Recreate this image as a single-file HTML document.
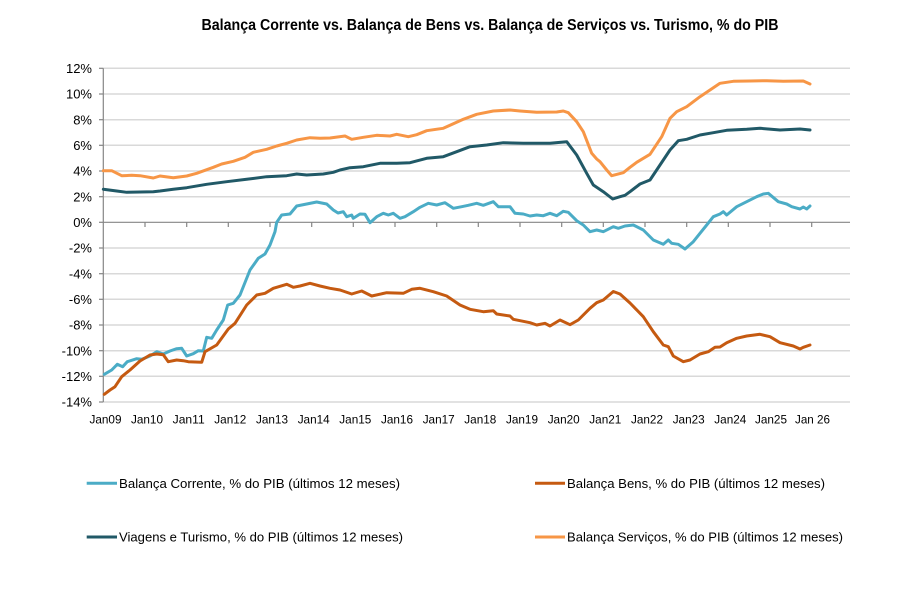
<!DOCTYPE html>
<html>
<head>
<meta charset="utf-8">
<style>
html,body{margin:0;padding:0;background:#fff;}
svg{display:block;}
text{font-family:"Liberation Sans",Arial,sans-serif;fill:#000;}
</style>
</head>
<body>
<svg width="918" height="590" viewBox="0 0 918 590" xmlns="http://www.w3.org/2000/svg">
<rect width="918" height="590" fill="#fff"/>
<text x="201.5" y="30" font-size="15.5" font-weight="bold" textLength="577" lengthAdjust="spacingAndGlyphs">Balança Corrente vs. Balança de Bens vs. Balança de Serviços vs. Turismo, % do PIB</text>

<!-- gridlines -->
<g stroke="#d9d9d9" stroke-width="1.5">
<line x1="103.3" y1="68.3" x2="850" y2="68.3"/>
<line x1="103.3" y1="94" x2="850" y2="94"/>
<line x1="103.3" y1="119.7" x2="850" y2="119.7"/>
<line x1="103.3" y1="145.3" x2="850" y2="145.3"/>
<line x1="103.3" y1="171" x2="850" y2="171"/>
<line x1="103.3" y1="196.7" x2="850" y2="196.7"/>
<line x1="103.3" y1="248" x2="850" y2="248"/>
<line x1="103.3" y1="273.7" x2="850" y2="273.7"/>
<line x1="103.3" y1="299.3" x2="850" y2="299.3"/>
<line x1="103.3" y1="325" x2="850" y2="325"/>
<line x1="103.3" y1="350.7" x2="850" y2="350.7"/>
<line x1="103.3" y1="376.3" x2="850" y2="376.3"/>
<line x1="103.3" y1="402" x2="850" y2="402"/>
</g>
<!-- axes -->
<g stroke="#868686" stroke-width="1.2">
<line x1="103.3" y1="68.3" x2="103.3" y2="402"/>
<line x1="103.3" y1="222.3" x2="850" y2="222.3"/>
<line x1="99" y1="68.3" x2="103.3" y2="68.3"/>
<line x1="99" y1="94" x2="103.3" y2="94"/>
<line x1="99" y1="119.7" x2="103.3" y2="119.7"/>
<line x1="99" y1="145.3" x2="103.3" y2="145.3"/>
<line x1="99" y1="171" x2="103.3" y2="171"/>
<line x1="99" y1="196.7" x2="103.3" y2="196.7"/>
<line x1="99" y1="222.3" x2="103.3" y2="222.3"/>
<line x1="99" y1="248" x2="103.3" y2="248"/>
<line x1="99" y1="273.7" x2="103.3" y2="273.7"/>
<line x1="99" y1="299.3" x2="103.3" y2="299.3"/>
<line x1="99" y1="325" x2="103.3" y2="325"/>
<line x1="99" y1="350.7" x2="103.3" y2="350.7"/>
<line x1="99" y1="376.3" x2="103.3" y2="376.3"/>
<line x1="99" y1="402" x2="103.3" y2="402"/>
<line x1="145" y1="222.3" x2="145" y2="227"/>
<line x1="186.7" y1="222.3" x2="186.7" y2="227"/>
<line x1="228.3" y1="222.3" x2="228.3" y2="227"/>
<line x1="270" y1="222.3" x2="270" y2="227"/>
<line x1="311.7" y1="222.3" x2="311.7" y2="227"/>
<line x1="353.3" y1="222.3" x2="353.3" y2="227"/>
<line x1="395" y1="222.3" x2="395" y2="227"/>
<line x1="436.7" y1="222.3" x2="436.7" y2="227"/>
<line x1="478.3" y1="222.3" x2="478.3" y2="227"/>
<line x1="520" y1="222.3" x2="520" y2="227"/>
<line x1="561.7" y1="222.3" x2="561.7" y2="227"/>
<line x1="603.3" y1="222.3" x2="603.3" y2="227"/>
<line x1="645" y1="222.3" x2="645" y2="227"/>
<line x1="686.7" y1="222.3" x2="686.7" y2="227"/>
<line x1="728.3" y1="222.3" x2="728.3" y2="227"/>
<line x1="770" y1="222.3" x2="770" y2="227"/>
<line x1="811.7" y1="222.3" x2="811.7" y2="227"/>
</g>

<!-- y labels -->
<g font-size="13" text-anchor="end">
<text x="92" y="73">12%</text>
<text x="92" y="98.7">10%</text>
<text x="92" y="124.4">8%</text>
<text x="92" y="150">6%</text>
<text x="92" y="175.7">4%</text>
<text x="92" y="201.4">2%</text>
<text x="92" y="227">0%</text>
<text x="92" y="252.7">-2%</text>
<text x="92" y="278.4">-4%</text>
<text x="92" y="304">-6%</text>
<text x="92" y="329.7">-8%</text>
<text x="92" y="355.4">-10%</text>
<text x="92" y="381">-12%</text>
<text x="92" y="406.7">-14%</text>
</g>

<!-- x labels -->
<g font-size="12" text-anchor="middle">
<text x="105.5" y="423.5" textLength="32" lengthAdjust="spacingAndGlyphs">Jan09</text>
<text x="147" y="423.5" textLength="32" lengthAdjust="spacingAndGlyphs">Jan10</text>
<text x="188.7" y="423.5" textLength="32" lengthAdjust="spacingAndGlyphs">Jan11</text>
<text x="230.3" y="423.5" textLength="32" lengthAdjust="spacingAndGlyphs">Jan12</text>
<text x="272" y="423.5" textLength="32" lengthAdjust="spacingAndGlyphs">Jan13</text>
<text x="313.7" y="423.5" textLength="32" lengthAdjust="spacingAndGlyphs">Jan14</text>
<text x="355.3" y="423.5" textLength="32" lengthAdjust="spacingAndGlyphs">Jan15</text>
<text x="397" y="423.5" textLength="32" lengthAdjust="spacingAndGlyphs">Jan16</text>
<text x="438.7" y="423.5" textLength="32" lengthAdjust="spacingAndGlyphs">Jan17</text>
<text x="480.3" y="423.5" textLength="32" lengthAdjust="spacingAndGlyphs">Jan18</text>
<text x="522" y="423.5" textLength="32" lengthAdjust="spacingAndGlyphs">Jan19</text>
<text x="563.7" y="423.5" textLength="32" lengthAdjust="spacingAndGlyphs">Jan20</text>
<text x="605.3" y="423.5" textLength="32" lengthAdjust="spacingAndGlyphs">Jan21</text>
<text x="647" y="423.5" textLength="32" lengthAdjust="spacingAndGlyphs">Jan22</text>
<text x="688.7" y="423.5" textLength="32" lengthAdjust="spacingAndGlyphs">Jan23</text>
<text x="730.3" y="423.5" textLength="32" lengthAdjust="spacingAndGlyphs">Jan24</text>
<text x="771" y="423.5" textLength="32" lengthAdjust="spacingAndGlyphs">Jan25</text>
<text x="812.5" y="423.5" textLength="35" lengthAdjust="spacingAndGlyphs">Jan 26</text>
</g>

<!-- series -->
<g fill="none" stroke-width="3" stroke-linejoin="round" stroke-linecap="round">
<polyline stroke="#F79646" points="103.3,170.7 111.7,170.7 121.7,175.7 131.7,175.3 140,175.7 153.3,178 160,176 173.3,177.7 186.7,176 196.7,173.3 213.3,167.3 221.7,164 233.3,161.3 245,157.3 253.3,152.3 266.7,149.3 276.7,146 286.7,143.3 296.7,140 310,137.7 320,138.3 330,138 345,136 351.7,139.3 363.3,137.3 376.7,135.3 390,136 396.7,134.3 408.3,136.7 416.7,134.7 426.7,130.7 443.3,128.3 463.3,119.3 476.7,114.3 493.3,111 510,110 520,111 536.7,112.3 556.7,112 563.3,111 568.3,112.7 576.7,121.7 583.3,131.7 591.7,153.3 596.7,159 600,161.7 606.7,170 611.7,175.7 623.3,172.7 630,167.3 636.7,162.3 650,154.3 661.7,136.7 670,118.3 676.7,111.7 686.7,106.7 700,96.7 710,90 720,83.3 733.3,81.3 750,81 766.7,80.7 783.3,81.3 803.3,81 810,84"/>
<polyline stroke="#215967" points="103.3,189.3 116.7,191 126.7,192.3 153.3,191.7 160,191 173.3,189.3 186.7,187.7 206.7,184.3 226.7,181.7 246.7,179.3 266.7,176.7 286.7,175.7 296.7,174 306.7,175 323.3,174 333.3,172.3 340,170 350,167.7 363.3,166.7 380,163.3 396.7,163.3 410,162.7 426.7,158.3 443.3,156.7 456.7,151.7 470,146.7 486.7,145 503.3,142.7 523.3,143.3 550,143.3 566.7,141.7 576.7,155 586.7,173.3 593.3,185 603.3,191.7 612.7,199 620,196.7 625,195.3 630,191.7 640,184 650,180 660,165 670,150 678.3,140.7 686.7,139.3 700,135 713.3,132.7 726.7,130.3 746.7,129.3 760,128.3 780,130 800,129 810,130"/>
<polyline stroke="#4BACC6" points="104.3,374.3 111.7,370 117.3,364.3 122.7,366.7 127.3,361.7 136.7,358.7 141.7,359.3 150,356 156.7,351.7 163.3,354 170,351 176.7,348.7 181.7,348.3 186.7,356 193.3,353.7 198.3,350.7 203.3,351 206.7,337.3 211.7,338.3 216.7,330 223.3,320 227.7,305 233.3,303.3 240,295 250,270 258.3,258.3 265,254 270,245 275,231.7 276.7,222.3 281.7,215 290,214 296.7,206 306.7,204 316.7,202 326.7,204 333.3,210 338,213 343.3,211.7 346.7,216.7 351.7,215 353.3,218.3 360,214 365,214.3 370,222.7 376.7,216.7 383.3,213.3 388.3,215 393.3,213.3 400,218.3 405,216.7 413.3,211.7 420,207.3 428.3,203.3 436.7,205 445,202.7 453.3,208.3 461.7,206.7 468.3,205.3 476.7,203.3 483.3,205.3 493.3,201.7 498.3,206.7 510,206.7 515,213.3 523.3,214 530,216 536.7,215 543.3,215.7 550,213.3 556.7,215.7 563.3,211.3 568.3,212.3 576.7,220.7 583.3,225 590,231.7 596.7,230 603.3,231.7 613.3,226.7 618.3,228.3 625,226 633.3,225 643.3,230 653.3,240 663.3,244.3 668.3,240 671.7,243.3 678.3,244.3 685,249 693.3,241.7 700,233.3 706.7,225 713.3,216.7 720,214 723.3,211.7 726.7,215 736.7,206.7 746.7,201.7 756.7,196.7 763.3,194 768.3,193.3 778.3,201.7 786.7,204 791.7,206.7 800,209 803.3,207 806.7,209 810,206"/>
<polyline stroke="#C55A11" points="104.3,394.3 110,390 115,386.7 121.7,376.7 130,370 140,361 150,355 156.7,354 163.3,354.7 168.3,361.7 176.7,360 183.3,360.7 188.3,361.7 201.7,362.3 205,351.7 216.7,345 228.3,329 235,323.3 246.7,305 256.7,295 265,293.3 273.3,288.3 286.7,284.3 293.3,287.3 300,286 310,283.3 320,286 330,288.3 340,290 351.7,294 361.7,291 371.7,296 386.7,292.7 403.3,293.3 411.7,289.3 420,288.3 433.3,291.7 446.7,296 460,305 470,309.3 483.3,311.7 493.3,310.7 496.7,314 510,316 513.3,319.3 530,322.7 536.7,325 545,323.3 550,326 560,320 570,324.7 578.3,320 590,308.3 596.7,302.7 603.3,300 613.3,291.5 620,294 630,303 643.3,316.7 653.3,331.7 663.3,345 668.3,346.7 673.3,356 683.3,361.7 690,360 700,354 708.3,351.7 715,347.3 720,347 726.7,342.7 736.7,338.3 746.7,336 760,334.3 770,336.7 780,342.7 793.3,346 800,349 803.3,347.3 810,345"/>
</g>

<!-- legend -->
<g stroke-width="3">
<line x1="86.7" y1="483.3" x2="117" y2="483.3" stroke="#4BACC6"/>
<line x1="86.7" y1="537" x2="117" y2="537" stroke="#215967"/>
<line x1="535" y1="483.3" x2="565" y2="483.3" stroke="#C55A11"/>
<line x1="535" y1="537" x2="565" y2="537" stroke="#F79646"/>
</g>
<g font-size="13">
<text x="119" y="488" textLength="281" lengthAdjust="spacingAndGlyphs">Balança Corrente,  % do PIB (últimos 12 meses)</text>
<text x="119" y="541.7" textLength="284" lengthAdjust="spacingAndGlyphs">Viagens e Turismo,  % do PIB (últimos 12 meses)</text>
<text x="567" y="488" textLength="258" lengthAdjust="spacingAndGlyphs">Balança Bens,  % do PIB (últimos 12 meses)</text>
<text x="567" y="541.7" textLength="276" lengthAdjust="spacingAndGlyphs">Balança Serviços,  % do PIB (últimos 12 meses)</text>
</g>
</svg>
</body>
</html>
